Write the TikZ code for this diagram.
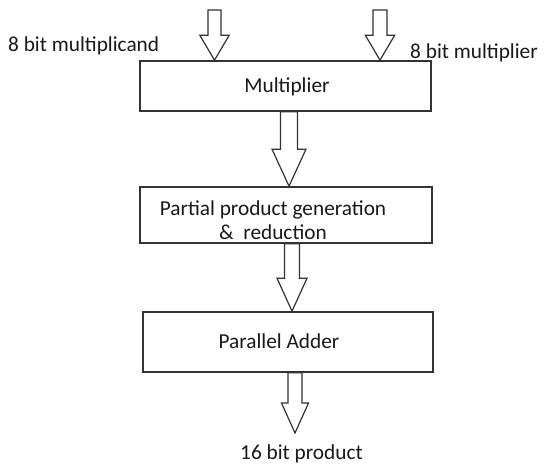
\documentclass[tikz,border=0pt]{standalone}
\usepackage{fontspec}
\setmainfont{Carlito}
\usetikzlibrary{calc}

% block arrow: #1 tail, #2 tip, #3 shaft half width, #4 head half width, #5 head length
\newcommand{\fatarrow}[5]{%
  \draw[blockarr] let \p1=(#1), \p2=(#2) in
    (\x2-#3,\y1) -- (\x2-#3,\y2+#5) -- (\x2-#4,\y2+#5) -- (\x2,\y2)
    -- (\x2+#4,\y2+#5) -- (\x2+#3,\y2+#5) -- (\x2+#3,\y1) -- cycle;}

\begin{document}
\begin{tikzpicture}[
  x=1pt, y=-1pt,
  blk/.style={draw=black!80, line width=1.6pt, inner sep=0pt, rectangle},
  blockarr/.style={draw=black!80, line width=1.2pt, fill=white, line join=miter},
  txt/.style={font=\fontsize{21.3}{24}\selectfont, text=black!90, inner sep=0pt}
]
\useasboundingbox (0,0) rectangle (546,465);

%% ── Blocks ──────────────────────────────────────────────
\node[blk, minimum width=291pt, minimum height=50pt] (mult) at (285.5,86) {};
\node[blk, minimum width=292pt, minimum height=56pt] (ppg)  at (286,215) {};
\node[blk, minimum width=290pt, minimum height=60pt] (padd) at (288,342) {};

% block texts
\node[txt, anchor=base] (multtxt) at (287,93) {Multiplier};
\node[txt, anchor=center, align=center] (ppgtxt) at (273,220)
  {Partial product generation\\\& \ reduction};
\node[txt, anchor=base] (paddtxt) at (279,348) {Parallel Adder};

%% ── Inputs / output ─────────────────────────────────────
\coordinate (mcandin) at (214.5,10);
\coordinate (mplrin)  at (380,10);
\coordinate (prodout) at (295,433);

\node[txt, anchor=base west] (mcand) at (8,52)   {8 bit multiplicand};
\node[txt, anchor=base west] (mplr)  at (410,59) {8 bit multiplier};
\node[txt, anchor=base west] (prod)  at (240,459) {16 bit product};

%% ── Block arrows ────────────────────────────────────────
% inputs into multiplier
\fatarrow{mcandin}{mult.north -| mcandin}{6.5pt}{14.7pt}{25pt}
\fatarrow{mplrin}{mult.north -| mplrin}{7pt}{14.7pt}{25pt}

% multiplier -> partial products
\fatarrow{mult.south}{$(ppg.north)+(3,0)$}{8.5pt}{17pt}{37pt}

% partial products -> adder
\fatarrow{ppg.south}{$(padd.north)+(4,0)$}{7.5pt}{15pt}{33pt}

% adder -> product
\fatarrow{padd.south}{prodout}{7pt}{13.5pt}{30pt}

\end{tikzpicture}
\end{document}
